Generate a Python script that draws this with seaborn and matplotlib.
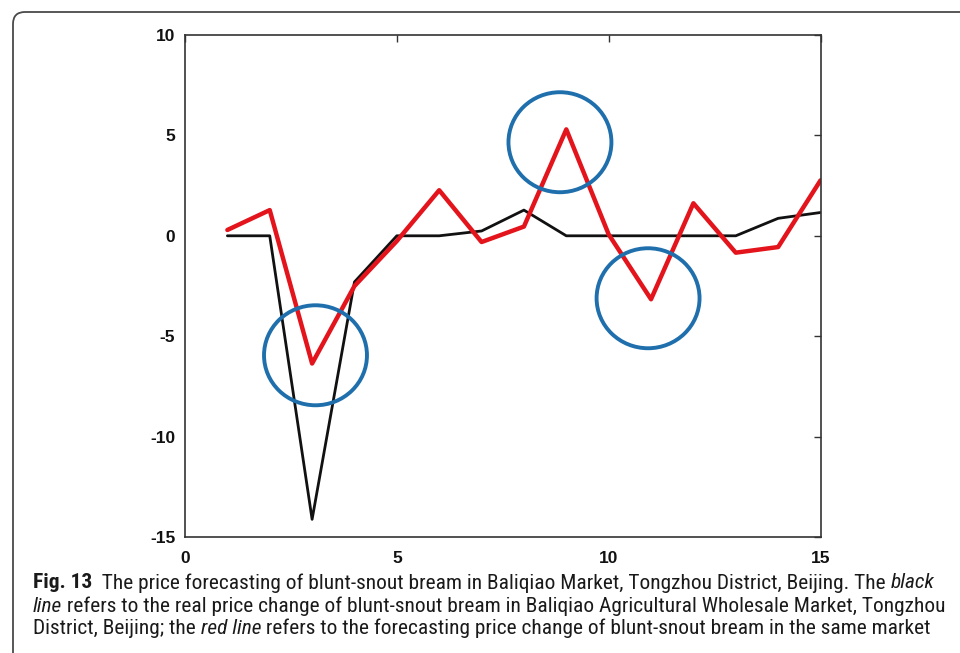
import numpy as np
import pandas as pd
import matplotlib
matplotlib.use("Agg")
import matplotlib.pyplot as plt
import seaborn as sns
from matplotlib.patches import Ellipse, FancyBboxPatch
from matplotlib import font_manager

# ---- data ----
steps = list(range(1, 16))
real_change = [0, 0, -14.12, -2.3, 0, 0, 0.24, 1.28, 0, 0, 0, 0, 0, 0.87, 1.16]
forecast_change = [0.29, 1.28, -6.36, -2.5, -0.26, 2.27, -0.31, 0.46, 5.3, 0.07,
                   -3.16, 1.62, -0.84, -0.56, 2.76]
circle_x = [3.08, 8.85, 10.93]
circle_y = [-5.95, 4.66, -3.11]
x_ticks = [0, 5, 10, 15]
y_ticks = [-15, -10, -5, 0, 5, 10]

df = pd.DataFrame({"step": steps, "real": real_change, "forecast": forecast_change})

sns.set_theme(style="white")
plt.rcParams["font.family"] = ["Liberation Sans", "DejaVu Sans"]

W, H = 960, 653
fig = plt.figure(figsize=(W / 100, H / 100), dpi=100)

# rounded frame of the figure panel (extends beyond right/bottom edges)
frame = FancyBboxPatch((13 / 100, -1.0), 12.0, (H - 12) / 100 + 1.0,
                       boxstyle="round,pad=0,rounding_size=0.12",
                       transform=fig.dpi_scale_trans, fill=False,
                       edgecolor="#4a4a4a", linewidth=1.3, clip_on=False)
fig.patches.append(frame)

ax = fig.add_axes([185 / W, 1 - 537 / H, (820.5 - 185) / W, (537 - 35) / H])

sns.lineplot(data=df, x="step", y="real", ax=ax, color="#111111", linewidth=2.0)
sns.lineplot(data=df, x="step", y="forecast", ax=ax, color="#e3141b", linewidth=3.2)

for cx, cy in zip(circle_x, circle_y):
    ax.add_patch(Ellipse((cx, cy), 2.43, 4.98, fill=False, edgecolor="#1f6fad",
                         linewidth=2.8, zorder=5))

ax.set_xlim(0, 15)
ax.set_ylim(-15, 10)
ax.set_xticks(x_ticks)
ax.set_yticks(y_ticks)
ax.set_xticklabels([str(v) for v in x_ticks])
ax.set_yticklabels([str(v) for v in y_ticks])
ax.set_xlabel("")
ax.set_ylabel("")
ax.tick_params(direction="in", length=5, width=1, color="#333333",
               top=True, right=True, labelsize=12.5, labelcolor="#111111")
ax.tick_params(axis="x", pad=10)
ax.tick_params(axis="y", pad=7)
for lab in ax.get_xticklabels() + ax.get_yticklabels():
    lab.set_fontweight("bold")
for sp in ax.spines.values():
    sp.set_visible(True)
    sp.set_color("#333333")
    sp.set_linewidth(1.2)

# ---- caption with mixed styles ----
cap_family = ["Lato", "DejaVu Sans"]
for cand in ["Liberation Sans Narrow", "Roboto Condensed", "Open Sans Condensed"]:
    try:
        font_manager.findfont(font_manager.FontProperties(family=cand),
                              fallback_to_default=False)
        cap_family = [cand, "DejaVu Sans"]
        break
    except Exception:
        pass

lines = [
    [("Fig. 13", "normal", "bold"), ("  The price forecasting of blunt-snout bream in Baliqiao Market, Tongzhou District, Beijing. The ", "normal", "normal"), ("black", "italic", "normal")],
    [("line", "italic", "normal"), (" refers to the real price change of blunt-snout bream in Baliqiao Agricultural Wholesale Market, Tongzhou", "normal", "normal")],
    [("District, Beijing; the ", "normal", "normal"), ("red line", "italic", "normal"), (" refers to the forecasting price change of blunt-snout bream in the same market", "normal", "normal")],
]
line_y = [583, 606, 628]
x0 = 33
renderer = fig.canvas.get_renderer()


def piece_width(s, style, weight, size):
    # measure with sentinels so leading/trailing spaces count
    t1 = fig.text(0, 0, "|" + s + "|", fontsize=size, style=style, weight=weight, family=cap_family)
    t2 = fig.text(0, 0, "||", fontsize=size, style=style, weight=weight, family=cap_family)
    w = t1.get_window_extent(renderer).width - t2.get_window_extent(renderer).width
    t1.remove()
    t2.remove()
    return w


base = 12.0
w2 = sum(piece_width(s, st, wt, base) for s, st, wt in lines[1])
size = base * (943 - x0) / w2

for pieces, yy in zip(lines, line_y):
    x = x0
    for s, st, wt in pieces:
        fig.text(x / W, 1 - yy / H, s, fontsize=size, style=st, weight=wt,
                 family=cap_family, color="#1a1a1a", va="center", ha="left")
        x += piece_width(s, st, wt, size)

fig.savefig("out.png", dpi=100)
